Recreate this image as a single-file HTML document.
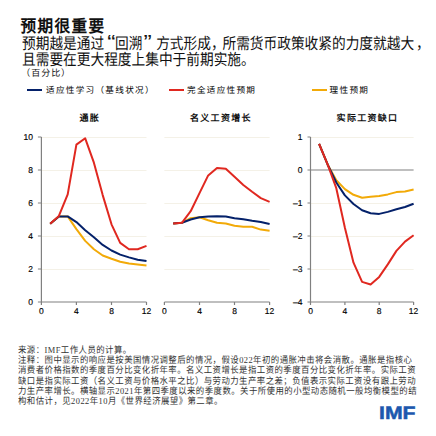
<!DOCTYPE html>
<html lang="zh-CN"><head><meta charset="utf-8"><style>
html,body{margin:0;padding:0;background:#fff;}
body{text-spacing-trim:space-all;text-rendering:geometricPrecision;width:436px;height:436px;position:relative;overflow:hidden;font-family:"Liberation Sans",sans-serif;color:#111;}
.q{display:inline-block;width:1em;}
.a{position:absolute;white-space:nowrap;line-height:1;}
.t1{left:20.5px;top:19.8px;font-size:15.6px;letter-spacing:1.4px;font-weight:bold;transform:scaleY(1.08);transform-origin:0 50%;}
.t2{left:22px;font-size:13.7px;transform:scaleY(1.15);transform-origin:0 50%;}
.unit{left:21.3px;top:69.3px;font-size:9px;letter-spacing:0.95px;}
.leg{font-size:8.6px;letter-spacing:1.3px;top:85.9px;color:#000;}
.ll{position:absolute;height:2px;top:89px;width:15px;}
.ct{font-size:9px;font-weight:bold;letter-spacing:1.3px;top:114.4px;}
.nl{position:absolute;left:18px;white-space:nowrap;font-size:8.4px;letter-spacing:0.47px;line-height:1;color:#333;transform:scaleY(1.1);transform-origin:0 60%;}
.s{font-family:"Liberation Serif",serif;}
.imf{left:379.4px;top:404px;-webkit-text-stroke:0.5px #1c58ae;font-size:18px;font-weight:bold;color:#1c58ae;letter-spacing:0px;transform:scaleX(1.18);transform-origin:0 0;}
</style></head><body>
<div class="a t1">预期很重要</div>
<div class="a t2" style="top:36.5px">预期越是通过<span class="q" style="text-align:right;width:0.8em"><span style="display:inline-block;transform:translateY(-1.5px) scale(1.8,1.3);transform-origin:100% 30%">“</span></span>回溯<span class="q" style="text-align:left"><span style="display:inline-block;transform:translate(1.5px,-1.5px) scale(1.8,1.3);transform-origin:0 30%">”</span></span>方式形成<span class="q" style="width:0.84em">，</span>所需货币政策收紧的力度就越大<span style="margin-left:2px">，</span></div>
<div class="a t2" style="top:52.8px">且需要在更大程度上集中于前期实施。</div>
<div class="a unit">（百分比）</div>
<div class="ll" style="left:27px;background:#04216a"></div><div class="a leg" style="left:46px">适应性学习（基线状况）</div>
<div class="ll" style="left:169px;background:#e02820"></div><div class="a leg" style="left:187px">完全适应性预期</div>
<div class="ll" style="left:312px;background:#f2aa08"></div><div class="a leg" style="left:329.6px">理性预期</div>
<div class="a ct" style="left:79.5px">通胀</div>
<div class="a ct" style="left:190px">名义工资增长</div>
<div class="a ct" style="left:336.6px">实际工资缺口</div>
<svg width="436" height="436" viewBox="0 0 436 436" style="position:absolute;left:0;top:0"><line x1="41.4" y1="269.5" x2="146.5" y2="269.5" stroke="#f4f1e7" stroke-width="1"/><line x1="41.4" y1="236.5" x2="146.5" y2="236.5" stroke="#f4f1e7" stroke-width="1"/><line x1="41.4" y1="203.5" x2="146.5" y2="203.5" stroke="#f4f1e7" stroke-width="1"/><line x1="41.4" y1="170.5" x2="146.5" y2="170.5" stroke="#f4f1e7" stroke-width="1"/><line x1="41.4" y1="137.5" x2="146.5" y2="137.5" stroke="#f4f1e7" stroke-width="1"/><polyline points="50.2,223.8 58.9,216.4 67.7,216.4 76.4,229.1 85.2,240.9 93.9,249.2 102.7,255.5 111.5,258.8 120.2,261.7 129.0,263.6 137.7,264.4 146.5,265.4" fill="none" stroke="#f2aa08" stroke-width="2" stroke-linejoin="round"/><polyline points="50.2,223.8 58.9,216.4 67.7,216.4 76.4,222.1 85.2,230.2 93.9,237.3 102.7,244.9 111.5,250.5 120.2,254.6 129.0,257.4 137.7,259.8 146.5,261.1" fill="none" stroke="#04216a" stroke-width="2" stroke-linejoin="round"/><polyline points="50.2,223.8 58.9,215.9 67.7,194.3 76.4,144.6 85.2,138.3 93.9,162.7 102.7,195.1 111.5,224.3 120.2,242.9 129.0,249.2 137.7,249.2 146.5,245.9" fill="none" stroke="#e02820" stroke-width="2" stroke-linejoin="round"/><line x1="41.4" y1="137" x2="41.4" y2="302" stroke="#808080" stroke-width="1.2"/><line x1="37.9" y1="302" x2="146.5" y2="302" stroke="#808080" stroke-width="1.2"/><line x1="37.9" y1="269.0" x2="41.4" y2="269.0" stroke="#808080" stroke-width="1"/><line x1="37.9" y1="236.0" x2="41.4" y2="236.0" stroke="#808080" stroke-width="1"/><line x1="37.9" y1="203.0" x2="41.4" y2="203.0" stroke="#808080" stroke-width="1"/><line x1="37.9" y1="170.0" x2="41.4" y2="170.0" stroke="#808080" stroke-width="1"/><line x1="37.9" y1="137.0" x2="41.4" y2="137.0" stroke="#808080" stroke-width="1"/><line x1="41.4" y1="302" x2="41.4" y2="305" stroke="#808080" stroke-width="1.2"/><line x1="76.4" y1="302" x2="76.4" y2="305" stroke="#808080" stroke-width="1.2"/><line x1="111.5" y1="302" x2="111.5" y2="305" stroke="#808080" stroke-width="1.2"/><line x1="146.5" y1="302" x2="146.5" y2="305" stroke="#808080" stroke-width="1.2"/><line x1="164.4" y1="269.5" x2="269.6" y2="269.5" stroke="#f4f1e7" stroke-width="1"/><line x1="164.4" y1="236.5" x2="269.6" y2="236.5" stroke="#f4f1e7" stroke-width="1"/><line x1="164.4" y1="203.5" x2="269.6" y2="203.5" stroke="#f4f1e7" stroke-width="1"/><line x1="164.4" y1="170.5" x2="269.6" y2="170.5" stroke="#f4f1e7" stroke-width="1"/><line x1="164.4" y1="137.5" x2="269.6" y2="137.5" stroke="#f4f1e7" stroke-width="1"/><polyline points="173.2,223.6 181.9,222.8 190.7,218.2 199.5,217.2 208.2,220.2 217.0,222.8 225.8,223.5 234.5,225.8 243.3,226.8 252.1,226.8 260.8,229.6 269.6,230.7" fill="none" stroke="#f2aa08" stroke-width="2" stroke-linejoin="round"/><polyline points="173.2,223.6 181.9,222.8 190.7,219.5 199.5,217.2 208.2,216.4 217.0,216.2 225.8,216.4 234.5,218.2 243.3,219.2 252.1,220.8 260.8,222.1 269.6,224.0" fill="none" stroke="#04216a" stroke-width="2" stroke-linejoin="round"/><polyline points="173.2,223.6 181.9,222.8 190.7,211.2 199.5,193.1 208.2,175.4 217.0,167.9 225.8,168.7 234.5,176.8 243.3,185.0 252.1,191.8 260.8,198.1 269.6,201.8" fill="none" stroke="#e02820" stroke-width="2" stroke-linejoin="round"/><line x1="164.4" y1="302" x2="269.6" y2="302" stroke="#808080" stroke-width="1.2"/><line x1="164.4" y1="302" x2="164.4" y2="305" stroke="#808080" stroke-width="1.2"/><line x1="199.5" y1="302" x2="199.5" y2="305" stroke="#808080" stroke-width="1.2"/><line x1="234.5" y1="302" x2="234.5" y2="305" stroke="#808080" stroke-width="1.2"/><line x1="269.6" y1="302" x2="269.6" y2="305" stroke="#808080" stroke-width="1.2"/><line x1="310.5" y1="137.5" x2="413.6" y2="137.5" stroke="#f4f1e7" stroke-width="1"/><line x1="310.5" y1="203.5" x2="413.6" y2="203.5" stroke="#f4f1e7" stroke-width="1"/><line x1="310.5" y1="236.5" x2="413.6" y2="236.5" stroke="#f4f1e7" stroke-width="1"/><line x1="310.5" y1="269.5" x2="413.6" y2="269.5" stroke="#f4f1e7" stroke-width="1"/><line x1="307.5" y1="170" x2="413.6" y2="170" stroke="#808080" stroke-width="1.2"/><polyline points="319.1,143.9 327.7,164.7 336.3,180.2 344.9,189.1 353.5,194.8 362.1,197.7 370.6,196.7 379.2,196.1 387.8,194.4 396.4,192.1 405.0,191.4 413.6,189.5" fill="none" stroke="#f2aa08" stroke-width="2" stroke-linejoin="round"/><polyline points="319.1,143.9 327.7,164.7 336.3,182.5 344.9,195.4 353.5,204.0 362.1,210.3 370.6,213.2 379.2,213.9 387.8,211.9 396.4,209.3 405.0,207.0 413.6,203.7" fill="none" stroke="#04216a" stroke-width="2" stroke-linejoin="round"/><polyline points="319.1,143.9 327.7,164.7 336.3,188.2 344.9,227.8 353.5,262.7 362.1,281.9 370.6,284.5 379.2,276.9 387.8,264.4 396.4,250.9 405.0,241.6 413.6,235.3" fill="none" stroke="#e02820" stroke-width="2" stroke-linejoin="round"/><line x1="310.5" y1="137" x2="310.5" y2="302" stroke="#808080" stroke-width="1.2"/><line x1="307.5" y1="302" x2="413.6" y2="302" stroke="#808080" stroke-width="1.2"/><line x1="307.5" y1="137.0" x2="310.5" y2="137.0" stroke="#808080" stroke-width="1"/><line x1="307.5" y1="203.0" x2="310.5" y2="203.0" stroke="#808080" stroke-width="1"/><line x1="307.5" y1="236.0" x2="310.5" y2="236.0" stroke="#808080" stroke-width="1"/><line x1="307.5" y1="269.0" x2="310.5" y2="269.0" stroke="#808080" stroke-width="1"/><line x1="310.5" y1="302" x2="310.5" y2="305" stroke="#808080" stroke-width="1.2"/><line x1="344.9" y1="302" x2="344.9" y2="305" stroke="#808080" stroke-width="1.2"/><line x1="379.2" y1="302" x2="379.2" y2="305" stroke="#808080" stroke-width="1.2"/><line x1="413.6" y1="302" x2="413.6" y2="305" stroke="#808080" stroke-width="1.2"/><g font-family="Liberation Sans, sans-serif" font-size="8.5" fill="#000" stroke="#000" stroke-width="0.15"><text x="33.0" y="305.0" text-anchor="end">0</text><text x="33.0" y="272.0" text-anchor="end">2</text><text x="33.0" y="239.0" text-anchor="end">4</text><text x="33.0" y="206.0" text-anchor="end">6</text><text x="33.0" y="173.0" text-anchor="end">8</text><text x="33.0" y="140.0" text-anchor="end">10</text><text x="41.4" y="314.0" text-anchor="middle">0</text><text x="164.4" y="314.0" text-anchor="middle">0</text><text x="310.5" y="314.0" text-anchor="middle">0</text><text x="76.4" y="314.0" text-anchor="middle">4</text><text x="199.5" y="314.0" text-anchor="middle">4</text><text x="344.9" y="314.0" text-anchor="middle">4</text><text x="111.5" y="314.0" text-anchor="middle">8</text><text x="234.5" y="314.0" text-anchor="middle">8</text><text x="379.2" y="314.0" text-anchor="middle">8</text><text x="146.5" y="314.0" text-anchor="middle">12</text><text x="269.6" y="314.0" text-anchor="middle">12</text><text x="413.6" y="314.0" text-anchor="middle">12</text><text x="302.5" y="140.0" text-anchor="end">1</text><text x="302.5" y="173.0" text-anchor="end">0</text><text x="302.5" y="206.0" text-anchor="end">&#8211;1</text><text x="302.5" y="239.0" text-anchor="end">&#8211;2</text><text x="302.5" y="272.0" text-anchor="end">&#8211;3</text><text x="302.5" y="305.0" text-anchor="end">&#8211;4</text></g></svg>
<div class="nl" style="top:346.0px">来源：<span class="s">IMF</span>工作人员的计算。</div><div class="nl" style="top:356.2px">注释：图中显示的响应是按美国情况调整后的情况，假设<span class="s">022</span>年初的通胀冲击将会消散。通胀是指核心</div><div class="nl" style="top:366.4px">消费者价格指数的季度百分比变化折年率。名义工资增长是指工资的季度百分比变化折年率。实际工资</div><div class="nl" style="top:376.6px">缺口是指实际工资（名义工资与价格水平之比）与劳动力生产率之差；负值表示实际工资没有跟上劳动</div><div class="nl" style="top:386.8px">力生产率增长。横轴显示<span class="s">2021</span>年第四季度以来的季度数。关于所使用的小型动态随机一般均衡模型的结</div><div class="nl" style="top:397.0px">构和估计，见<span class="s">2022</span>年<span class="s">10</span>月《世界经济展望》第二章。</div>
<div class="a imf">IMF</div>
</body></html>
